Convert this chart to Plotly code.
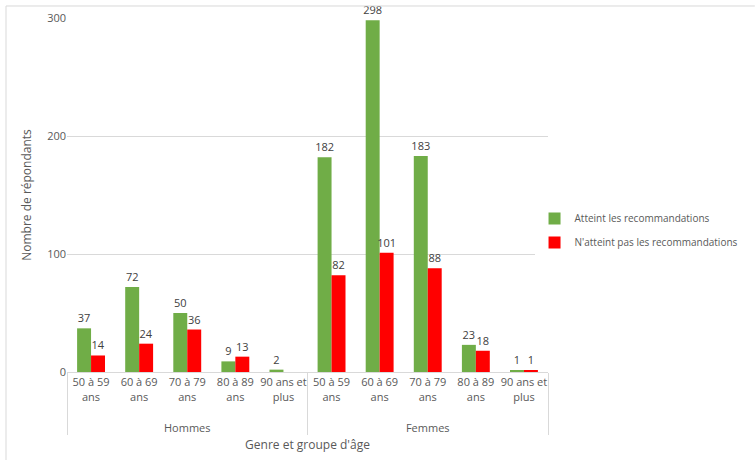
import plotly.graph_objects as go

genres = ["<br>Hommes"] * 5 + ["<br>Femmes"] * 5
ages = ["50 à 59<br>ans", "60 à 69<br>ans", "70 à 79<br>ans", "80 à 89<br>ans", "90 ans et<br>plus"] * 2
atteint = [37, 72, 50, 9, 2, 182, 298, 183, 23, 1]
n_atteint = [14, 24, 36, 13, None, 82, 101, 88, 18, 1]

series_names = ["Atteint les recommandations", "N'atteint pas les recommandations"]
colors = ["#70AD47", "#FF0000"]

FONT = "Open Sans"
TXT = "#595959"

fig = go.Figure()
for i, (name, vals, col) in enumerate(zip(series_names, [atteint, n_atteint], colors)):
    fig.add_trace(go.Bar(
        x=[genres, ages], y=vals, name=name, marker_color=col,
        marker_line_width=0, legendgroup=f"g{i}",
        text=["" if v is None else str(v) for v in vals],
        textposition="outside", cliponaxis=False, constraintext="none",
        textfont=dict(family=FONT, size=11, color="#404040"),
    ))

fig.update_layout(
    width=755, height=460,
    margin=dict(l=67, r=207, t=18, b=88, autoexpand=False),
    paper_bgcolor="white", plot_bgcolor="white",
    barmode="group", bargap=0.42, bargroupgap=0,
    uniformtext=dict(minsize=11, mode="show"),
    font=dict(family=FONT, size=11, color=TXT),
    legend=dict(x=0.972, y=0.40, xanchor="left", yanchor="middle",
                font=dict(family=FONT, size=10, color=TXT),
                itemwidth=30, tracegroupgap=5),
    showlegend=True,
    shapes=[
        dict(type="line", xref="paper", yref="paper", x0=-0.1268, x1=1.43, y0=1.0339, y1=1.0339,
             line=dict(color="#D9D9D9", width=1)),
        dict(type="line", xref="paper", yref="paper", x0=-0.1268, x1=-0.1268, y0=1.0339, y1=-0.26,
             line=dict(color="#D9D9D9", width=1)),
    ],
)
fig.update_yaxes(
    range=[0, 300], tickvals=[0, 100, 200, 300], showgrid=True, gridcolor="#D9D9D9",
    zeroline=False, showline=False, ticks="", ticklen=0, automargin=False,
    tickfont=dict(family=FONT, size=11, color=TXT),
    title=dict(text="Nombre de répondants", font=dict(family=FONT, size=12, color=TXT), standoff=12),
)
fig.update_xaxes(
    type="multicategory", showline=True, linecolor="#D9D9D9", linewidth=1,
    showdividers=True, dividercolor="#D9D9D9", dividerwidth=1,
    tickangle=0, automargin=False,
    tickfont=dict(family=FONT, size=11, color=TXT),
    title=dict(text="Genre et groupe d'âge", font=dict(family=FONT, size=12, color=TXT), standoff=6),
)

fig.write_html("out.html")
